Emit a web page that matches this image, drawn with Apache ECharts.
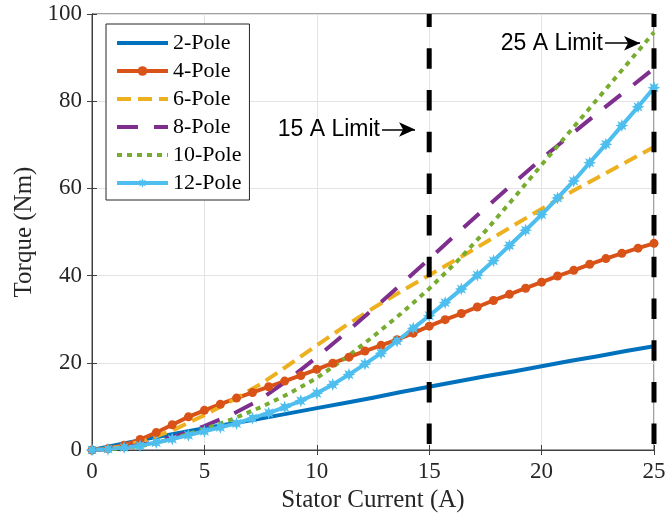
<!DOCTYPE html>
<html>
<head>
<meta charset="utf-8">
<script src="https://cdn.jsdelivr.net/npm/echarts@6/dist/echarts.min.js"></script>
<style>
  html, body { margin: 0; padding: 0; background: #fff; }
  #chart { width: 668px; height: 516px; }
</style>
</head>
<body>
<div id="chart"></div>
<script>
// Machine configurations
const poleNames = ['2-Pole', '4-Pole', '6-Pole', '8-Pole', '10-Pole', '12-Pole'];
const markedPoles = ['4-Pole', '12-Pole'];

// Sample grid used by the marked curves (4-pole and 12-pole)
const currentMarked = [
  0, 0.71, 1.43, 2.14, 2.86, 3.57, 4.29, 5, 5.71, 6.43, 7.14, 7.86,
  8.57, 9.29, 10, 10.71, 11.43, 12.14, 12.86, 13.57, 14.29, 15, 15.71, 16.43,
  17.14, 17.86, 18.57, 19.29, 20, 20.71, 21.43, 22.14, 22.86, 23.57, 24.29, 25
];
const torque4Pole = [
  0, 0.3, 1.1, 2.4, 4.0, 5.8, 7.6, 9.1, 10.5, 11.9, 13.2, 14.5,
  15.8, 17.1, 18.5, 19.9, 21.3, 22.7, 24.0, 25.3, 26.8, 28.4, 29.9, 31.3,
  32.8, 34.3, 35.7, 37.1, 38.5, 39.9, 41.2, 42.6, 43.9, 45.1, 46.3, 47.4
];
const torque12Pole = [
  0, 0.2, 0.6, 1.0, 1.7, 2.5, 3.4, 4.3, 5.2, 6.1, 7.3, 8.5,
  9.8, 11.3, 13.0, 15.0, 17.3, 19.7, 22.2, 25.0, 27.9, 30.8, 33.8, 36.9,
  40.1, 43.4, 46.9, 50.4, 54.0, 57.8, 61.7, 65.9, 70.1, 74.4, 78.7, 83.1
];

// Sample grid for the unmarked curves
const currentPlain = [
  0, 1.25, 2.5, 3.75, 5, 6.25, 7.5, 8.75, 10, 11.25, 12.5,
  13.75, 15, 16.25, 17.5, 18.75, 20, 21.25, 22.5, 23.75, 25
];
const torque2Pole = [
  0, 1.3, 2.6, 3.8, 5.0, 6.1, 7.2, 8.4, 9.6, 10.8, 12.0,
  13.3, 14.5, 15.7, 16.9, 18.0, 19.2, 20.4, 21.5, 22.7, 23.8
];
const torque6Pole = [
  0, 0.7, 2.4, 4.9, 8.0, 11.4, 15.1, 19.5, 24.0, 28.4, 32.5,
  36.4, 40.1, 43.8, 47.6, 51.5, 55.3, 59.0, 62.5, 66.0, 69.5
];
const torque8Pole = [
  0, 0.4, 1.5, 3.2, 5.5, 8.2, 11.6, 16.2, 21.3, 26.7, 32.3,
  38.0, 43.8, 49.7, 55.5, 61.2, 66.8, 72.1, 77.3, 82.4, 87.5
];
const torque10Pole = [
  0, 0.3, 1.2, 2.8, 4.8, 7.1, 9.8, 12.9, 16.5, 21.0, 26.0,
  31.3, 37.0, 43.3, 50.2, 57.7, 65.4, 73.0, 80.6, 88.2, 95.8
];

// Current limits and their annotation arrows
const limitCurrents = [15, 25];
const limitLabels = ['15 A Limit', '25 A Limit'];
const arrowStartCurrent = [12.9, 22.82];
const arrowEndCurrent = [14.37, 24.38];
const arrowTorque = [73.5, 93.3];

// Axis ranges
const currentRange = [0, 25, 5];
const torqueRange = [0, 100, 20];

const pairs = (xs, ys) => xs.map((x, i) => [x, ys[i]]);

const colors = ['#0072BD', '#D95319', '#EDB120', '#7E2F8E', '#77AC30', '#4DBEEE'];
const serif = 'Liberation Serif, Times New Roman, serif';
const sans = 'Liberation Sans, Arial, sans-serif';
const axisColor = '#404040';

// 8-armed asterisk marker
const asterisk = 'path://M0,-10 L2,-4.6 L7.07,-7.07 L4.6,-2 L10,0 L4.6,2 L7.07,7.07 L2,4.6 L0,10 L-2,4.6 L-7.07,7.07 L-4.6,2 L-10,0 L-4.6,-2 L-7.07,-7.07 L-2,-4.6 Z';

function curve(name, color, data, dash, extra) {
  return Object.assign({
    name: name,
    type: 'line',
    data: data,
    symbol: 'none',
    color: color,
    lineStyle: { width: 4, color: color, type: dash, cap: 'butt', join: 'round' },
    itemStyle: { color: color },
    animation: false
  }, extra || {});
}

const series = [
  curve(poleNames[0], colors[0], pairs(currentPlain, torque2Pole), 'solid'),
  curve(poleNames[1], colors[1], pairs(currentMarked, torque4Pole), 'solid',
    { symbol: 'circle', symbolSize: 9, showSymbol: true }),
  curve(poleNames[2], colors[2], pairs(currentPlain, torque6Pole), [14, 7]),
  curve(poleNames[3], colors[3], pairs(currentPlain, torque8Pole), [21, 16]),
  curve(poleNames[4], colors[4], pairs(currentPlain, torque10Pole), [5, 5]),
  curve(poleNames[5], colors[5], pairs(currentMarked, torque12Pole), 'solid',
    { symbol: asterisk, symbolSize: 13, showSymbol: true })
];

// Vertical limit lines with labelled arrows
limitCurrents.forEach((c, i) => {
  series.push({
    name: 'limit' + c,
    type: 'line',
    data: [[c, torqueRange[1]], [c, torqueRange[0]]],
    symbol: 'none',
    clip: false,
    z: 5,
    animation: false,
    lineStyle: { color: '#000', width: 5, type: [20.5, 21.2], dashOffset: 7.4, cap: 'butt' },
    markLine: {
      silent: true,
      animation: false,
      symbol: ['none', 'arrow'],
      symbolSize: [11, 16],
      lineStyle: { color: '#000', width: 1.5, type: 'solid' },
      label: {
        show: true,
        position: 'start',
        distance: 2,
        formatter: limitLabels[i],
        fontFamily: sans,
        fontSize: 23,
        color: '#000'
      },
      data: [[
        { coord: [arrowStartCurrent[i], arrowTorque[i]] },
        { coord: [arrowEndCurrent[i], arrowTorque[i]] }
      ]]
    }
  });
});

// Legend entries: only the marked curves show a marker
const legendItems = poleNames.map(n => markedPoles.indexOf(n) >= 0
  ? { name: n }
  : { name: n, itemStyle: { opacity: 0 } });

const axisLabelStyle = { fontFamily: serif, fontSize: 23, color: '#262626' };

const option = {
  backgroundColor: '#fff',
  animation: false,
  grid: {
    left: 92, right: 14, top: 14, bottom: 66,
    containLabel: false,
    outerBoundsMode: 'none',
    show: true,
    borderColor: axisColor,
    borderWidth: 1
  },
  legend: {
    data: legendItems,
    orient: 'vertical',
    left: 106,
    top: 24,
    padding: [8, 8, 6, 9],
    itemWidth: 51,
    itemHeight: 12,
    itemGap: 6,
    backgroundColor: '#fff',
    borderColor: '#262626',
    borderWidth: 1,
    lineStyle: { width: 4 },
    textStyle: { fontFamily: serif, fontSize: 22, color: '#000' },
    selectedMode: false
  },
  xAxis: [{
    type: 'value',
    min: currentRange[0], max: currentRange[1], interval: currentRange[2],
    name: 'Stator Current (A)',
    nameLocation: 'middle',
    nameGap: 36,
    nameTextStyle: { fontFamily: serif, fontSize: 25, color: '#262626' },
    axisLine: { show: true, lineStyle: { color: axisColor, width: 1 } },
    axisTick: { show: true, inside: true, length: 5, lineStyle: { color: axisColor } },
    axisLabel: Object.assign({ margin: 10 }, axisLabelStyle),
    splitLine: { show: true, lineStyle: { color: '#e3e3e3', width: 1 } }
  }, {
    type: 'value', position: 'top',
    min: currentRange[0], max: currentRange[1], interval: currentRange[2],
    axisLine: { show: true, lineStyle: { color: axisColor, width: 1 } },
    axisTick: { show: true, inside: true, length: 5, lineStyle: { color: axisColor } },
    axisLabel: { show: false },
    splitLine: { show: false }
  }],
  yAxis: [{
    type: 'value',
    min: torqueRange[0], max: torqueRange[1], interval: torqueRange[2],
    name: 'Torque (Nm)',
    nameLocation: 'middle',
    nameGap: 53,
    nameTextStyle: { fontFamily: serif, fontSize: 25, color: '#262626' },
    axisLine: { show: true, lineStyle: { color: axisColor, width: 1 } },
    axisTick: { show: true, inside: true, length: 5, lineStyle: { color: axisColor } },
    axisLabel: Object.assign({ margin: 10 }, axisLabelStyle),
    splitLine: { show: true, lineStyle: { color: '#e3e3e3', width: 1 } }
  }, {
    type: 'value', position: 'right',
    min: torqueRange[0], max: torqueRange[1], interval: torqueRange[2],
    axisLine: { show: true, lineStyle: { color: axisColor, width: 1 } },
    axisTick: { show: true, inside: true, length: 5, lineStyle: { color: axisColor } },
    axisLabel: { show: false },
    splitLine: { show: false }
  }],
  series: series
};

const chart = echarts.init(document.getElementById('chart'), null, { renderer: 'canvas' });
chart.setOption(option);
</script>
</body>
</html>
